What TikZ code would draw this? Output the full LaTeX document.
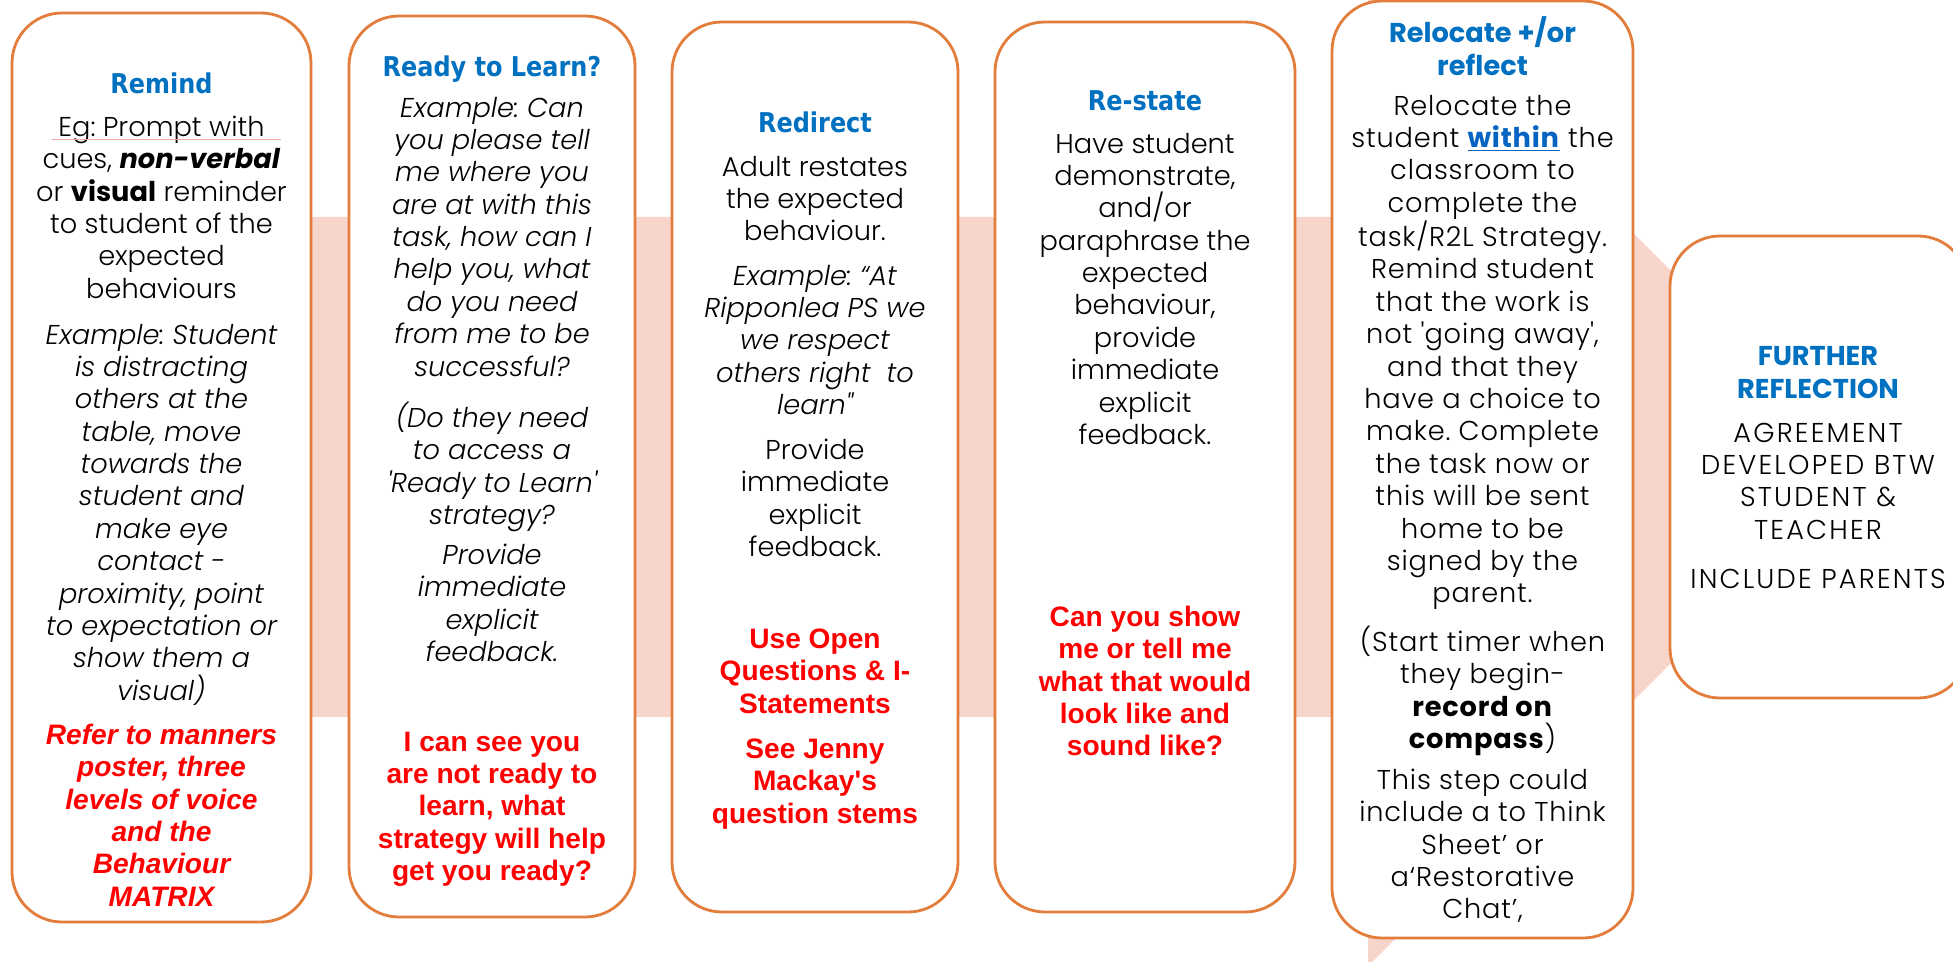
\documentclass[tikz,border=0pt]{standalone}
\usepackage{fontspec}
\setmainfont{Poppins}[UprightFont={* Light}, ItalicFont={* Light Italic}, BoldFont={* Bold}, BoldItalicFont={* Bold Italic}]
\newfontfamily\widefont{Poppins}[UprightFont={* Light}, BoldFont={* Bold}, LetterSpace=3]
\newfontfamily\capsfont{Poppins}[UprightFont={* Light}, BoldFont={* Bold}, LetterSpace=8]
\newfontfamily\headfont{DejaVu Sans}[FakeStretch=0.88]
\newfontfamily\warnfont{Liberation Sans}
\usetikzlibrary{positioning}
\definecolor{boxorange}{HTML}{E27D3C}
\definecolor{bandpink}{HTML}{F8D5CA}
\definecolor{titleblue}{HTML}{0070C0}
\definecolor{linkblue}{HTML}{0563C1}
\definecolor{warnred}{HTML}{FF0000}
\definecolor{spellpink}{HTML}{F2A6A6}
\newcommand{\fsz}{\fontsize{15.5}{18.44}\selectfont}
\newcommand{\wsz}{\fontsize{16}{18.44}\selectfont}
\newcommand{\sq}{\textquotesingle}
\frenchspacing

\begin{document}
\begin{tikzpicture}[x=0.02cm, y=-0.02cm,
  stepbox/.style={draw=boxorange, line width=1.6pt, fill=white, rounded corners=1cm, inner sep=0pt},
  txt/.style={align=center, inner sep=0pt, anchor=north, yshift=0.23cm, font=\fsz, execute at begin node=\strut},
  txtit/.style={txt, font=\fsz\itshape},
  txtwide/.style={txt, font=\fsz\widefont},
  txtcaps/.style={txt, font=\fsz\capsfont},
  ttl/.style={txt, text=titleblue, font=\fsz\headfont\bfseries},
  ttlwide/.style={txt, text=titleblue, font=\fsz\bfseries},
  warn/.style={txt, text=warnred, font=\wsz\warnfont\bfseries},
  warnit/.style={warn, font=\wsz\warnfont\bfseries\itshape}]
\useasboundingbox (0,0) rectangle (1953,962);
% background arrow
\fill[bandpink] (150,217) -- (1368,217) -- (1368,-32) -- (1867,467) -- (1368,966) -- (1368,717) -- (150,717) -- cycle;
% the six steps
\foreach \n/\cx/\cy/\w/\h in {remind/161.5/467.5/299/909, ready/492/466.5/286/901, redirect/815/467/286/890,
  restate/1145/467/300/890, relocate/1482.5/469.5/301/937, further/1819/467/298/462}
  {\node[stepbox, minimum width=\w*0.02cm, minimum height=\h*0.02cm] (\n) at (\cx,\cy) {};}

% Remind
\node[ttl] (remindttl) at (161.5,82) {Remind};
\node[txt] (remindtxt) at (161.5,127) {Eg: Prompt with\\ cues, \textbf{\textit{non-verbal}}\\ or \textbf{visual} reminder\\ to student of the\\ expected\\ behaviours};
\draw[spellpink, line width=0.5pt] (52,139) -- (281,139);
\node[txtit] (remindex) at (161.5,335) {Example: Student\\ is distracting\\ others at the\\ table, move\\ towards the\\ student and\\ make eye\\ contact -\\ proximity, point\\ to expectation or\\ show them a\\ visual)};
\node[warnit] (remindwarn) at (161.5,735) {Refer to manners\\ poster, three\\ levels of voice\\ and the\\ Behaviour\\ MATRIX};

% Ready to Learn
\node[ttl] (readyttl) at (492,65) {Ready to Learn?};
\node[txtit] (readyex) at (492,108) {Example: Can\\ you please tell\\ me where you\\ are at with this\\ task, how can I\\ help you, what\\ do you need\\ from me to be\\ successful?};
\node[txtit] (readyq) at (492,413) {(Do they need\\ to access a\\ \sq Ready to Learn\sq\\ strategy?};
\node[txtit] (readyfb) at (492,555) {Provide\\ immediate\\ explicit\\ feedback.};
\node[warn] (readywarn) at (492,743) {I can see you\\ are not ready to\\ learn, what\\ strategy will help\\ get you ready?};

% Redirect
\node[ttl] (redirectttl) at (815,121) {Redirect};
\node[txt] (redirecttxt) at (815,167) {Adult restates\\ the expected\\ behaviour.};
\node[txtit] (redirectex) at (815,276) {Example: “At\\ Ripponlea PS we\\ we respect\\ others right\ \ to\\ learn\textquotedbl};
\node[txt] (redirectfb) at (815,450) {Provide\\ immediate\\ explicit\\ feedback.};
\node[warn] (redirectwarn) at (815,640) {Use Open\\ Questions \& I-\\ Statements};
\node[warn] (redirectsee) at (815,750) {See Jenny\\ Mackay\sq s\\ question stems};

% Re-state
\node[ttl] (restatettl) at (1145,99) {Re-state};
\node[txt] (restatetxt) at (1145,144) {Have student\\ demonstrate,\\ and/or\\ paraphrase the\\ expected\\ behaviour,\\ provide\\ immediate\\ explicit\\ feedback.};
\node[warn] (restatewarn) at (1145,617) {Can you show\\ me or tell me\\ what that would\\ look like and\\ sound like?};

% Relocate
\node[ttlwide] (relocatettl) at (1482.5,28) {Relocate +/or\\ reflect};
\node[txtwide] (relocatetxt) at (1482.5,106) {Relocate the\\ student \textcolor{linkblue}{\underline{\textbf{within}}} the\\ classroom to\\ complete the\\ task/R2L Strategy.\\ Remind student\\ that the work is\\ not \sq going away\sq,\\ and that they\\ have a choice to\\ make. Complete\\ the task now or\\ this will be sent\\ home to be\\ signed by the\\ parent.};
\node[txtwide] (relocatetimer) at (1482.5,637) {(Start timer when\\ they begin-\\ \textbf{record on}\\ \textbf{compass})};
\node[txtwide] (relocatestep) at (1482.5,780) {This step could\\ include a to Think\\ Sheet’ or\\ a‘Restorative\\ Chat’,};

% Further reflection
\node[ttlwide] (furtherttl) at (1818,358) {FURTHER\\ REFLECTION};
\node[txtcaps] (furthertxt) at (1818,434) {AGREEMENT\\ DEVELOPED BTW\\ STUDENT \&\\ TEACHER};
\node[txtcaps] (furtherpar) at (1818,577) {INCLUDE PARENTS};
\end{tikzpicture}
\end{document}
